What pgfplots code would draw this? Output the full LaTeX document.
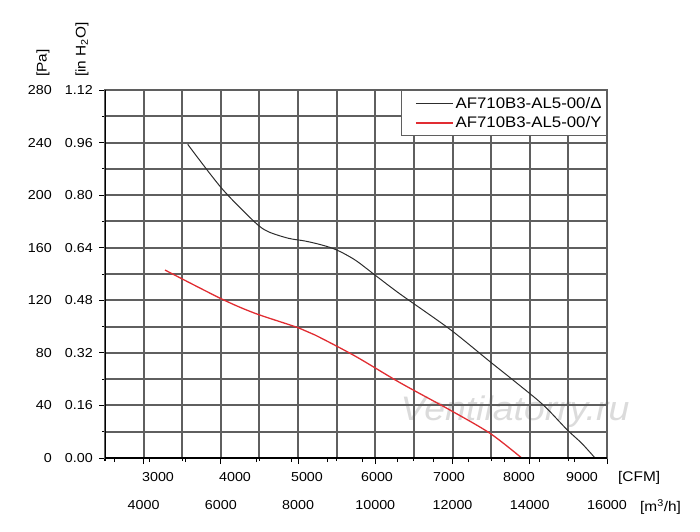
\documentclass[border=0pt]{standalone}
\usepackage{pgfplots}
\pgfplotsset{compat=1.18}
\usepackage{fontspec}
\setmainfont{Liberation Sans}[FakeStretch=1.1]
\definecolor{gridc}{RGB}{95,95,95}
\definecolor{redc}{RGB}{225,45,50}
\definecolor{blackc}{RGB}{45,45,45}
\begin{document}
\begin{tikzpicture}
\useasboundingbox (-105pt,-73pt) rectangle (595pt,458pt);
\pgfplotsset{
  base/.style={
    scale only axis, width=502pt, height=368pt,
    xmin=3000, xmax=16000, ymin=0, ymax=280,
    scaled ticks=false,
    tick pos=left, tick align=outside,
    ticklabel style={font=\fontsize{13}{13}\selectfont},
  }
}
\node[font=\itshape\fontsize{34}{34}\selectfont, text=black!14] at (410pt,46pt) {Ventilatorry.ru};
% main axis
\begin{axis}[base,
  axis line style={gridc, line width=2pt},
  xtick={4000,6000,...,16000},
  xticklabels={4000,6000,8000,10000,12000,14000,16000},
  minor xtick={3000,5000,...,15000},
  ytick={0,40,...,280},
  yticklabels={0.00,0.16,0.32,0.48,0.64,0.80,0.96,1.12},
  minor ytick={20,60,...,260},
  grid=both,
  major grid style={gridc, line width=2pt},
  minor grid style={gridc, line width=2pt},
  major tick length=6pt, minor tick length=3pt,
  tick style={black, line width=1pt},
  xticklabel style={anchor=north, yshift=-32.7pt},
  yticklabel style={anchor=east, xshift=-2.7pt},
  legend style={at={(rel axis cs:1,1)}, anchor=north east, draw=gridc, line width=1pt, fill=white,
    font=\fontsize{15.3}{18}\selectfont, inner xsep=3pt, inner ysep=4.5pt, row sep=3pt},
  legend cell align=left,
  legend image code/.code={\draw[draw=none] (-11pt,0pt) -- (0pt,0pt); \draw[#1] (0pt,0pt) -- (37pt,0pt);},
]
\addplot[blackc, line width=1pt, smooth, tension=0.5] coordinates {
(5142,238.7) (6022,205.2) (6885,179.3) (7229,172.2) (7747,167.2)
(8179,165.1) (8612,162.1) (9000,158.3) (9474,150.7) (9992,139.2) (10640,124.8)
(11934,97.9) (12970,73.3) (13618,58.1) (14351,40.3) (14957,21.8) (15345,11.2) (15690,0)
};
\addlegendentry{AF710B3-AL5-00/Δ}
\addplot[redc, line width=1.3pt, smooth, tension=0.5] coordinates {
(4554,143.0) (6022,121.0) (6885,110.1) (8006,99.1) (8438,93.6) (9474,77.6)
(10640,57.3) (11934,36.5) (12970,18.8) (13791,0)
};
\addlegendentry{AF710B3-AL5-00/Y}
\draw[black, line width=2pt] (rel axis cs:0,1) -- (rel axis cs:0,0) -- (rel axis cs:1,0);
\end{axis}
% overlay axis: CFM and Pa labels
\begin{axis}[base,
  axis line style={draw=none},
  xtick={4373,6367,8231,10044,11909,13721,15353},
  xticklabels={3000,4000,5000,6000,7000,8000,9000},
  minor xtick={3248,4165,5082,5999,6916,7833,8750,9667,10584,11501,12418,13335,14252,15169},
  major tick length=0pt, minor tick length=4pt,
  tick style={black, line width=1pt},
  ytick={0,40,...,280},
  yticklabels={0,40,80,120,160,200,240,280},
  xticklabel style={anchor=north, yshift=-10.7pt},
  yticklabel style={anchor=east, xshift=-49.7pt},
]
\end{axis}
\node[rotate=90, anchor=west, inner sep=0pt, font=\fontsize{14}{14}\selectfont] at (-62pt,381pt) {[Pa]};
\node[rotate=90, anchor=west, inner sep=0pt, font=\fontsize{14}{14}\selectfont] at (-23pt,381pt) {[in H\textsubscript{2}O]};
\node[anchor=west, inner sep=0pt, font=\fontsize{14}{14}\selectfont] at (513pt,-20pt) {[CFM]};
\node[anchor=west, inner sep=0pt, font=\fontsize{14}{14}\selectfont] at (535pt,-49pt) {[m\textsuperscript{3}/h]};
\end{tikzpicture}
\end{document}
